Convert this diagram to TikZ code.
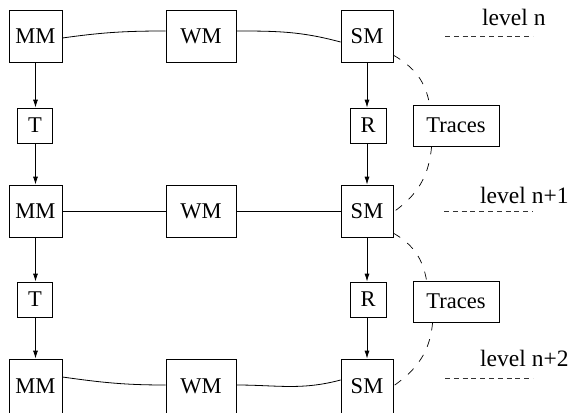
\documentclass[tikz,border=0pt]{standalone}
\usepackage{fontspec}
\setmainfont{Liberation Serif}
\usetikzlibrary{arrows.meta,calc}
\tikzset{
  box/.style={draw, line width=0.8pt, inner sep=0pt, minimum width=#1, font=\fontsize{22.5}{27}\selectfont},
  box/.default=52pt,
  sq/.style={box=#1, minimum height=52pt},
  sm/.style={box=#1, minimum height=35pt},
  tr/.style={box=86pt, minimum height=41pt},
  lvl/.style={inner sep=0pt, anchor=base west, font=\fontsize{23.5}{28}\selectfont},
  arr/.style={line width=0.8pt, -{Latex[length=8pt,width=5pt]}},
  link/.style={line width=0.8pt},
  trace/.style={line width=0.7pt, dash pattern=on 8pt off 9pt},
  lvline/.style={line width=0.8pt, black!80, dash pattern=on 5pt off 3.8pt}
}
\begin{document}
\begin{tikzpicture}[x=1pt,y=-1pt]
\useasboundingbox (0,0) rectangle (575,412);
% row 1
\node[sq=53pt] (MM1) at (35.5,36) {MM};
\node[sq=70pt] (WM1) at (201,36) {WM};
\node[sq=52pt] (SM1) at (367,36) {SM};
% row 2
\node[sq=53pt] (MM2) at (35.5,211) {MM};
\node[sq=70pt] (WM2) at (201,211) {WM};
\node[sq=52pt] (SM2) at (367,211) {SM};
% row 3
\node[box=53pt, minimum height=54pt] (MM3) at (35.5,386) {MM};
\node[box=70pt, minimum height=54pt] (WM3) at (201,386) {WM};
\node[box=52pt, minimum height=54pt] (SM3) at (367,386) {SM};
% intermediate
\node[sm=35pt] (T1) at (35,125.5) {T};
\node[sm=36pt] (R1) at (368,125.5) {R};
\node[tr] (Tr1) at (456,125.5) {Traces};
\node[sm=35pt] (T2) at (35,299.5) {T};
\node[sm=36pt] (R2) at (368,299.5) {R};
\node[tr] (Tr2) at (456,301.5) {Traces};
% levels
\node[lvl] (L1) at (482,26) {level n};
\node[lvl] (L2) at (480,203) {level n+1};
\node[lvl] (L3) at (480,366) {level n+2};
\coordinate (d1a) at (445,36);  \coordinate (d1b) at (533,36);
\coordinate (d2a) at (444,211); \coordinate (d2b) at (533,211);
\coordinate (d3a) at (445,378); \coordinate (d3b) at (533,378);
\draw[lvline] (d1a) -- (d1b);
\draw[lvline] (d2a) -- (d2b);
\draw[lvline] (d3a) -- (d3b);
% horizontal links
\draw[link] (MM1.east |- 0,38) to[out=8,in=180] (WM1.west |- 0,31);
\draw[link] (WM1.east |- 0,31) to[out=0,in=165] (SM1.west |- 0,42);
\draw[link] (MM2.east) -- (WM2.west);
\draw[link] (WM2.east) -- (SM2.west);
\draw[link] (MM3.east |- 0,377) to[out=-8,in=180] (WM3.west |- 0,385);
\draw[link] (WM3.east |- 0,385) to[out=0,in=-165] (SM3.west |- 0,380);
% vertical arrows
\draw[arr] (MM1.south) -- (MM1.south |- T1.north);
\draw[arr] (MM1.south |- T1.south) -- (MM2.north);
\draw[arr] (SM1.south) -- (SM1.south |- R1.north);
\draw[arr] (SM1.south |- R1.south) -- (SM2.north);
\draw[arr] (MM2.south) -- (MM2.south |- T2.north);
\draw[arr] (MM2.south |- T2.south) -- (MM3.north);
\draw[arr] (SM2.south) -- (SM2.south |- R2.north);
\draw[arr] (SM2.south |- R2.south) -- (SM3.north);
% traces
\draw[trace] (SM1.-36) to[out=-30,in=100] ($(Tr1.north west)+(17,0)$);
\draw[trace] ($(Tr1.south west)+(19,0)$) to[out=-95,in=35] (SM2.east |- 0,212);
\draw[trace] (SM2.-40) to[out=-30,in=100] ($(Tr2.north west)+(14,0)$);
\draw[trace] ($(Tr2.south west)+(20,0)$) to[out=-95,in=35] (SM3.east |- 0,386);
\end{tikzpicture}
\end{document}
